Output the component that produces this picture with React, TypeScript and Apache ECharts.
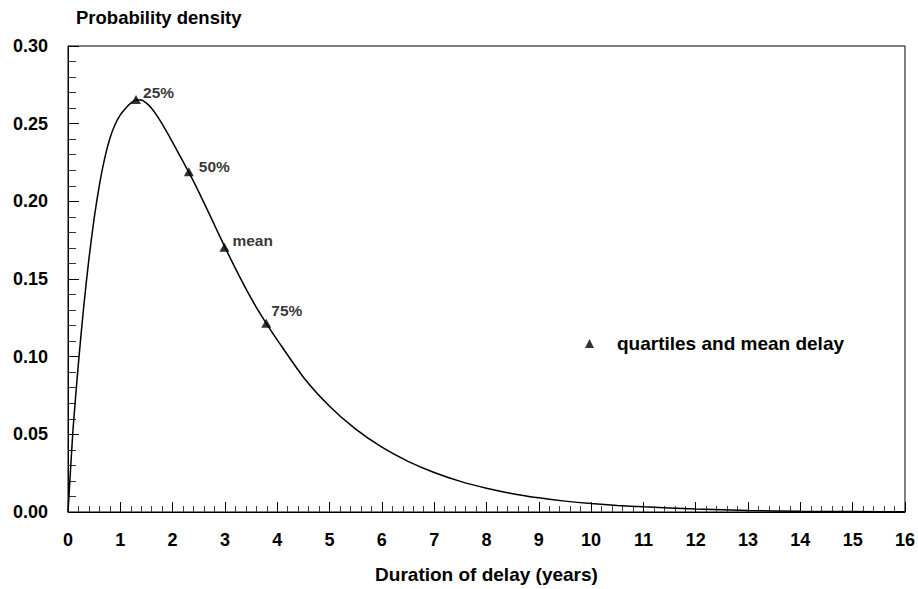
import React, { useEffect, useRef } from "react";
import * as echarts from "echarts";

// Density curve of the delay distribution (x in years, y density)
const curveX = [
  0, 0.05, 0.1, 0.2, 0.3, 0.4, 0.5, 0.6, 0.7, 0.8, 0.9, 1.0, 1.1, 1.2, 1.3, 1.4,
  1.5, 1.6, 1.7, 1.8, 2.0, 2.2, 2.4, 2.6, 2.8, 3.0, 3.2, 3.4, 3.6, 3.8, 4.0, 4.5,
  5.0, 5.5, 6.0, 6.5, 7.0, 7.5, 8.0, 8.5, 9.0, 9.5, 10, 10.5, 11, 12, 13, 14, 15, 16,
];
const curveY = [
  0, 0.028, 0.055, 0.096, 0.132, 0.163, 0.189, 0.2105, 0.2275, 0.2405, 0.2495,
  0.2557, 0.2598, 0.2632, 0.2653, 0.2652, 0.2632, 0.2598, 0.2552, 0.2498, 0.238,
  0.2255, 0.2128, 0.199, 0.1848, 0.1705, 0.1568, 0.1438, 0.1318, 0.121, 0.1108,
  0.0868, 0.0681, 0.0533, 0.0417, 0.0326, 0.0254, 0.0197, 0.0153, 0.0118, 0.0091,
  0.007, 0.0054, 0.0042, 0.0033, 0.0019, 0.001, 0.0005, 0.0003, 0.0001,
];

// Quartiles and mean of the delay
const markerNames = ["25%", "50%", "mean", "75%"];
const markerX = [1.3, 2.31, 2.99, 3.79];
const markerY = [0.2655, 0.219, 0.1705, 0.1215];
const markerLabelOffsets = [
  [-3, -7],
  [0, -5],
  [-2, -7],
  [-5, -13],
];

const xTicks = [0, 16, 1];
const yTicks = [0, 0.3, 0.05];

const FONT = "'Liberation Sans', Arial, sans-serif";

export default function App() {
  const ref = useRef<HTMLDivElement>(null);

  useEffect(() => {
    if (!ref.current) return;
    const chart = echarts.init(ref.current, null, { renderer: "svg" });

    const curveData = curveX.map((x, i) => [x, curveY[i]]);
    const markerData = markerX.map((x, i) => ({
      value: [x, markerY[i]],
      name: markerNames[i],
      label: {
        show: true,
        position: "right" as const,
        offset: markerLabelOffsets[i],
        formatter: markerNames[i],
        fontFamily: FONT,
        fontWeight: "bold" as const,
        fontSize: 15.5,
        color: "#000",
      },
    }));

    chart.setOption({
      animation: false,
      backgroundColor: "#fff",
      grid: {
        left: 68,
        top: 46,
        width: 839,
        height: 469,
        show: true,
        borderColor: "#000",
        borderWidth: 1,
        backgroundColor: "transparent",
      },
      legend: {
        left: 580,
        top: 329,
        itemWidth: 9,
        itemHeight: 9,
        data: [{ name: "quartiles and mean delay", icon: "triangle" }],
        textStyle: {
          fontFamily: FONT,
          fontWeight: "bold",
          fontSize: 19,
          color: "#000",
          padding: [0, 0, 0, 18],
        },
        selectedMode: false,
      },
      xAxis: {
        type: "value",
        min: xTicks[0],
        max: xTicks[1],
        interval: xTicks[2],
        name: "Duration of delay (years)",
        nameLocation: "middle",
        nameGap: 53,
        nameTextStyle: {
          fontFamily: FONT,
          fontWeight: "bold",
          fontSize: 19,
          color: "#000",
        },
        axisLine: { show: true, lineStyle: { color: "#000", width: 1 } },
        axisTick: { show: true, inside: true, length: 10, lineStyle: { color: "#000" } },
        minorTick: { show: true, splitNumber: 5, length: 6, lineStyle: { color: "#444" } },
        splitLine: { show: false },
        axisLabel: {
          margin: 19,
          fontFamily: FONT,
          fontWeight: "bold",
          fontSize: 18,
          color: "#000",
        },
      },
      yAxis: {
        type: "value",
        min: yTicks[0],
        max: yTicks[1],
        interval: yTicks[2],
        name: "Probability density",
        nameLocation: "end",
        nameGap: 19,
        nameTextStyle: {
          fontFamily: FONT,
          fontWeight: "bold",
          fontSize: 18.5,
          color: "#000",
          align: "left",
          padding: [0, 0, 0, 8],
        },
        axisLine: { show: true, lineStyle: { color: "#000", width: 1 } },
        axisTick: { show: true, inside: true, length: 11, lineStyle: { color: "#000" } },
        minorTick: { show: true, splitNumber: 5, length: 8, lineStyle: { color: "#333" } },
        splitLine: { show: false },
        axisLabel: {
          margin: 20,
          padding: [6, 0, 0, 0],
          formatter: (v: number) => v.toFixed(2),
          fontFamily: FONT,
          fontWeight: "bold",
          fontSize: 18,
          color: "#000",
        },
      },
      series: [
        {
          name: "density",
          type: "line",
          data: curveData,
          smooth: 0.25,
          showSymbol: false,
          lineStyle: { color: "#000", width: 1.5 },
          z: 2,
        },
        {
          name: "quartiles and mean delay",
          type: "scatter",
          data: markerData,
          symbol: "triangle",
          symbolSize: [10, 9],
          itemStyle: { color: "#000" },
          z: 3,
        },
      ],
    });

    return () => chart.dispose();
  }, []);

  return (
    <div
      ref={ref}
      style={{ position: "fixed", left: 0, top: 0, width: 918, height: 589 }}
    />
  );
}
